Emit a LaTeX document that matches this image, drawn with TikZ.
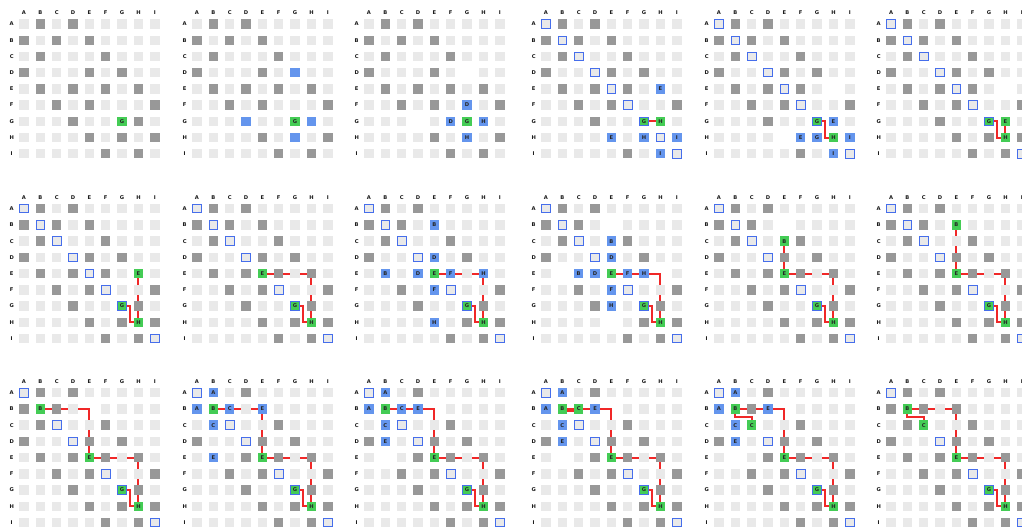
\documentclass[tikz,border=0pt]{standalone}
\usepackage{fontspec}
\setmainfont{DejaVu Sans}
\usetikzlibrary{calc}
\pgfdeclarelayer{bg}
\pgfsetlayers{bg,main}
\definecolor{lightc}{RGB}{233,233,233}
\definecolor{darkc}{RGB}{152,152,152}
\definecolor{bluec}{RGB}{100,149,237}
\definecolor{greenc}{RGB}{68,204,85}
\definecolor{outc}{RGB}{70,110,235}
\definecolor{redc}{RGB}{240,40,40}
\tikzset{
  cellbase/.style={minimum size=9.4pt, inner sep=0pt, outer sep=0pt, font=\bfseries\fontsize{5.2}{6}\selectfont, text=black!85},
  lcell/.style={cellbase, fill=lightc},
  dcell/.style={cellbase, fill=darkc},
  bcell/.style={cellbase, fill=bluec},
  gcell/.style={cellbase, fill=greenc},
  ocell/.style={cellbase, fill=lightc, draw=outc, line width=0.9pt, minimum size=8.5pt},
  gocell/.style={cellbase, fill=greenc, draw=outc, line width=0.9pt, minimum size=8.5pt},
  lbl/.style={font=\bfseries\fontsize{5.2}{6}\selectfont, inner sep=0pt, text=black!90},
  pathline/.style={draw=redc, line width=2pt},
}
% dark cells of the base matrix
\foreach \x in {AB,AD,BA,BC,BE,CB,CF,DA,DE,DG,EB,ED,EF,EH,FC,FE,FI,GD,GH,HE,HG,HI,IF,IH}{\expandafter\gdef\csname dk@\x\endcsname{}}
\newcommand\grid[3]{%
  \foreach \c [count=\ci from 0] in {A,B,C,D,E,F,G,H,I}{
    \node[lbl] (#1-h\c) at ({#2+\ci*16.35},{#3-11.5}) {\c};
    \node[lbl] (#1-v\c) at ({#2-12.3},{#3+\ci*16.22}) {\c};
  }
  \foreach \r [count=\ri from 0] in {A,B,C,D,E,F,G,H,I}{
    \foreach \c [count=\ci from 0] in {A,B,C,D,E,F,G,H,I}{
      \coordinate (#1-\r\c) at ({#2+\ci*16.35},{#3+\ri*16.22});
    }
  }
}
\newcommand\bl[2]{\foreach \x in {#2}{\expandafter\gdef\csname bl@#1@\x\endcsname{}}}
\newcommand\basecells[1]{%
  \foreach \r in {A,B,C,D,E,F,G,H,I}{
    \foreach \c in {A,B,C,D,E,F,G,H,I}{
      \ifcsname bl@#1@\r\c\endcsname\else
        \ifcsname dk@\r\c\endcsname
          \node[dcell] (#1-\r\c) at (#1-\r\c) {};
        \else
          \node[lcell] (#1-\r\c) at (#1-\r\c) {};
        \fi
      \fi
    }
  }
}
\newcommand\cl[3]{\foreach \p/\t in {#3}{\node[#2] (#1-\p) at (#1-\p) {\t};}}
\newcommand\clb[3]{\foreach \p in {#3}{\node[#2] (#1-\p) at (#1-\p) {};}}
\newcommand\seg[2]{\begin{pgfonlayer}{bg}\draw[pathline] #2;\end{pgfonlayer}}
\newcommand\elbowH[1]{\begin{pgfonlayer}{bg}\draw[pathline] (#1-GG.center) -| ($(#1-GG.center)!.5!(#1-HH.center)$) |- (#1-HH.center);\end{pgfonlayer}}
\newcommand\elbowV[1]{\begin{pgfonlayer}{bg}\draw[pathline] (#1-BB.center) |- ($(#1-BB.center)!.5!(#1-CC.center)$) -| (#1-CC.center);\end{pgfonlayer}}
\newcommand\mainpath[1]{\begin{pgfonlayer}{bg}\draw[pathline] (#1-EE.center) -- (#1-EH.center) -- (#1-HH.center);\end{pgfonlayer}}

\begin{document}
\begin{tikzpicture}[x=1pt,y=-1pt]
\useasboundingbox (0,0) rectangle (1022,529);
\clip (0,0) rectangle (1022,529);
% ---------- row 1 ----------
\grid{a1}{24}{24}
\basecells{a1}
\cl{a1}{gcell}{GG/G}

\grid{a2}{197}{24}
\basecells{a2}
\clb{a2}{bcell}{DG,GD,GH,HG}
\cl{a2}{gcell}{GG/G}

\grid{a3}{369}{24}
\bl{a3}{DG,GD}
\basecells{a3}
\cl{a3}{bcell}{FG/D,GF/D,GH/H,HG/H}
\cl{a3}{gcell}{GG/G}

\grid{a4}{546}{24}
\basecells{a4}
\seg{a4}{(a4-GG.center) -- (a4-GH.center)}
\clb{a4}{ocell}{AA,BB,CC,DD,EE,FF,HH,II}
\cl{a4}{bcell}{EH/E,HE/E,HG/H,HI/I,IH/I}
\cl{a4}{gocell}{GG/G}
\cl{a4}{gcell}{GH/H}

\grid{a5}{719}{24}
\bl{a5}{EH,HE}
\basecells{a5}
\elbowH{a5}
\clb{a5}{ocell}{AA,BB,CC,DD,EE,FF,II}
\cl{a5}{bcell}{GH/E,HF/E,HG/G,HI/I,IH/I}
\cl{a5}{gocell}{GG/G}
\cl{a5}{gcell}{HH/H}

\grid{a6}{891}{24}
\bl{a6}{EH}
\basecells{a6}
\elbowH{a6}
\seg{a6}{(a6-GH.center) -- (a6-HH.center)}
\clb{a6}{ocell}{AA,BB,CC,DD,EE,FF,II}
\cl{a6}{gocell}{GG/G}
\cl{a6}{gcell}{GH/E,HH/H}
% ---------- row 2 ----------
\grid{b1}{24}{208.7}
\basecells{b1}
\elbowH{b1}
\seg{b1}{(b1-EH.center) -- (b1-HH.center)}
\clb{b1}{ocell}{AA,BB,CC,DD,EE,FF,II}
\cl{b1}{gocell}{GG/G}
\cl{b1}{gcell}{EH/E,HH/H}

\grid{b2}{197}{208.7}
\basecells{b2}
\elbowH{b2}
\mainpath{b2}
\clb{b2}{ocell}{AA,BB,CC,DD,FF,II}
\cl{b2}{gocell}{GG/G}
\cl{b2}{gcell}{EE/E,HH/H}

\grid{b3}{369}{208.7}
\basecells{b3}
\elbowH{b3}
\mainpath{b3}
\clb{b3}{ocell}{AA,BB,CC,DD,FF,II}
\cl{b3}{bcell}{BE/B,DE/D,EB/B,ED/D,EF/F,EH/H,FE/F,HE/H}
\cl{b3}{gocell}{GG/G}
\cl{b3}{gcell}{EE/E,HH/H}

\grid{b4}{546}{208.7}
\bl{b4}{BE,EB,EH,HE}
\basecells{b4}
\elbowH{b4}
\mainpath{b4}
\clb{b4}{ocell}{AA,BB,CC,DD,FF,II}
\cl{b4}{bcell}{CE/B,DE/D,EC/B,ED/D,EF/F,EG/H,FE/F,GE/H}
\cl{b4}{gocell}{GG/G}
\cl{b4}{gcell}{EE/E,HH/H}

\grid{b5}{719}{208.7}
\bl{b5}{BE}
\basecells{b5}
\elbowH{b5}
\mainpath{b5}
\seg{b5}{(b5-CE.center) -- (b5-EE.center)}
\clb{b5}{ocell}{AA,BB,CC,DD,FF,II}
\cl{b5}{gocell}{GG/G}
\cl{b5}{gcell}{CE/B,EE/E,HH/H}

\grid{b6}{891}{208.7}
\basecells{b6}
\elbowH{b6}
\mainpath{b6}
\seg{b6}{(b6-BE.center) -- (b6-EE.center)}
\clb{b6}{ocell}{AA,BB,CC,DD,FF,II}
\cl{b6}{gocell}{GG/G}
\cl{b6}{gcell}{BE/B,EE/E,HH/H}
% ---------- row 3 ----------
\grid{c1}{24}{392.7}
\bl{c1}{BE}
\basecells{c1}
\elbowH{c1}
\mainpath{c1}
\seg{c1}{(c1-BB.center) -- (c1-BE.center) -- (c1-EE.center)}
\clb{c1}{ocell}{AA,CC,DD,FF,II}
\cl{c1}{gocell}{GG/G}
\cl{c1}{gcell}{BB/B,EE/E,HH/H}

\grid{c2}{197}{392.7}
\basecells{c2}
\elbowH{c2}
\mainpath{c2}
\seg{c2}{(c2-BB.center) -- (c2-BE.center) -- (c2-EE.center)}
\clb{c2}{ocell}{AA,CC,DD,FF,II}
\cl{c2}{bcell}{AB/A,BA/A,BC/C,BE/E,CB/C,EB/E}
\cl{c2}{gocell}{GG/G}
\cl{c2}{gcell}{BB/B,EE/E,HH/H}

\grid{c3}{369}{392.7}
\bl{c3}{BE,EB}
\basecells{c3}
\elbowH{c3}
\mainpath{c3}
\seg{c3}{(c3-BB.center) -- (c3-BE.center) -- (c3-EE.center)}
\clb{c3}{ocell}{AA,CC,DD,FF,II}
\cl{c3}{bcell}{AB/A,BA/A,BC/C,BD/E,CB/C,DB/E}
\cl{c3}{gocell}{GG/G}
\cl{c3}{gcell}{BB/B,EE/E,HH/H}

\grid{c4}{546}{392.7}
\bl{c4}{BE,EB}
\basecells{c4}
\elbowH{c4}
\mainpath{c4}
\seg{c4}{(c4-BB.center) -- (c4-BE.center) -- (c4-EE.center)}
\seg{c4}{([yshift=-2.4pt]c4-BB.center) -- ([yshift=-2.4pt]c4-BC.center)}
\clb{c4}{ocell}{AA,CC,DD,FF,II}
\cl{c4}{bcell}{AB/A,BA/A,BD/E,CB/C,DB/E}
\cl{c4}{gocell}{GG/G}
\cl{c4}{gcell}{BB/B,BC/C,EE/E,HH/H}

\grid{c5}{719}{392.7}
\bl{c5}{BE,EB}
\basecells{c5}
\elbowH{c5}
\mainpath{c5}
\elbowV{c5}
\seg{c5}{(c5-BB.center) -- (c5-BE.center) -- (c5-EE.center)}
\clb{c5}{ocell}{AA,DD,FF,II}
\cl{c5}{bcell}{AB/A,BA/A,BD/E,CB/C,DB/E}
\cl{c5}{gocell}{GG/G}
\cl{c5}{gcell}{BB/B,CC/C,EE/E,HH/H}

\grid{c6}{891}{392.7}
\basecells{c6}
\elbowH{c6}
\mainpath{c6}
\elbowV{c6}
\seg{c6}{(c6-BB.center) -- (c6-BE.center) -- (c6-EE.center)}
\clb{c6}{ocell}{AA,DD,FF,II}
\cl{c6}{gocell}{GG/G}
\cl{c6}{gcell}{BB/B,CC/C,EE/E,HH/H}
\end{tikzpicture}
\end{document}
